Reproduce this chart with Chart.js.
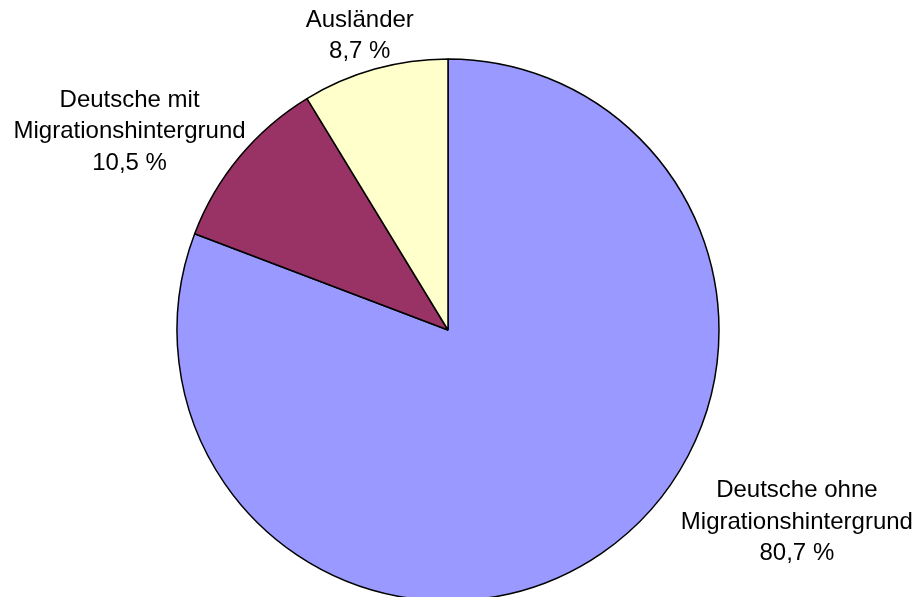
<!DOCTYPE html>
<html>
<head>
<meta charset="utf-8">
<script src="https://cdn.jsdelivr.net/npm/chart.js@4/dist/chart.umd.min.js"></script>
<style>
  html, body { margin: 0; padding: 0; background: #fff; overflow: hidden; }
  #wrap { position: relative; width: 918px; height: 660px; }
</style>
</head>
<body>
<div id="wrap"><canvas id="pie"></canvas></div>
<script>
// data
const categories = [
  ["Deutsche ohne", "Migrationshintergrund"],
  ["Deutsche mit", "Migrationshintergrund"],
  ["Ausländer"],
];
const shares = [80.7, 10.5, 8.7];

const sliceColors = ["#9999FF", "#993366", "#FFFFCC"];
// where each label block sits, relative to the slice's outer mid point
const labelShift = [[195, -31], [-110, -25], [-15, -33]];

const fmt = (v) => v.toFixed(1).replace(".", ",") + " %";

// draws the excel-like outside labels
const outsideLabels = {
  id: "outsideLabels",
  afterDatasetsDraw(chart) {
    const ctx = chart.ctx;
    const meta = chart.getDatasetMeta(0);
    ctx.save();
    ctx.font = "24px 'Liberation Sans', Arial, sans-serif";
    ctx.fillStyle = "#000";
    ctx.textAlign = "center";
    ctx.textBaseline = "middle";
    const lineH = 31.5;
    meta.data.forEach((arc, i) => {
      const p = arc.getProps(["x", "y", "startAngle", "endAngle", "outerRadius"], true);
      const mid = (p.startAngle + p.endAngle) / 2;
      const ax = p.x + Math.cos(mid) * p.outerRadius + labelShift[i][0];
      const ay = p.y + Math.sin(mid) * p.outerRadius + labelShift[i][1];
      const lines = categories[i].concat([fmt(shares[i])]);
      const top = ay - (lines.length - 1) * lineH / 2;
      lines.forEach((t, k) => ctx.fillText(t, ax, top + k * lineH));
    });
    ctx.restore();
  },
};

new Chart(document.getElementById("pie"), {
  type: "pie",
  data: {
    labels: categories.map((c) => c.join(" ")),
    datasets: [{
      data: shares,
      backgroundColor: sliceColors,
      borderColor: "#000",
      borderWidth: 1.5,
      radius: 271,
    }],
  },
  options: {
    responsive: true,
    maintainAspectRatio: false,
    animation: false,
    layout: { padding: { right: 22 } },
    plugins: {
      legend: { display: false },
      tooltip: { enabled: false },
    },
  },
  plugins: [outsideLabels],
});
</script>
</body>
</html>
